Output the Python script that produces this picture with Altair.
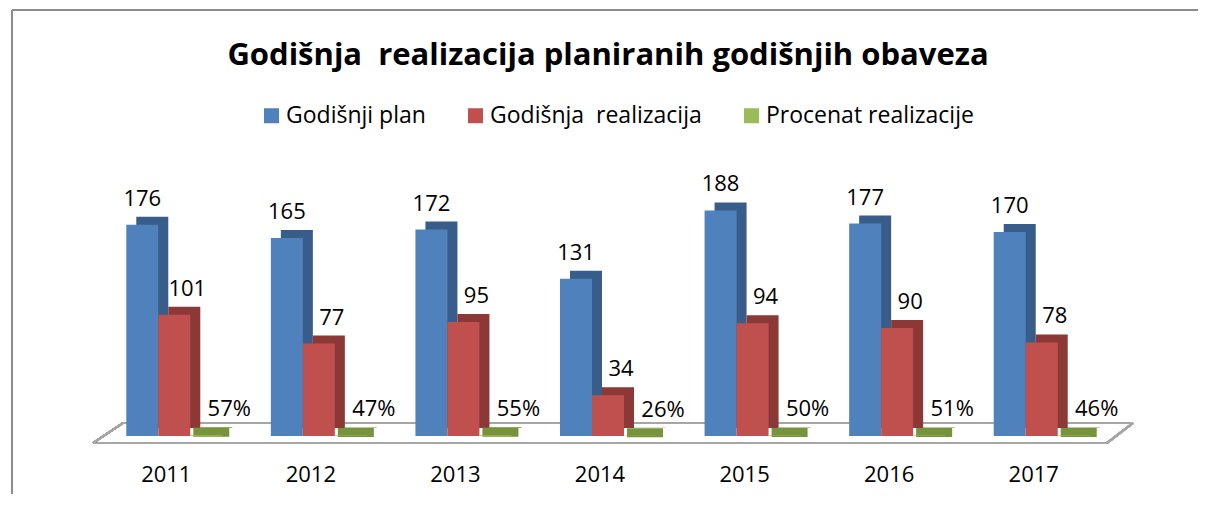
import altair as alt
import pandas as pd

years = ["2011", "2012", "2013", "2014", "2015", "2016", "2017"]
plan = [176, 165, 172, 131, 188, 177, 170]
realizacija = [101, 77, 95, 34, 94, 90, 78]
procenat = [0.57, 0.47, 0.55, 0.26, 0.50, 0.51, 0.46]

series = ["Godišnji plan", "Godišnja\u00a0 realizacija", "Procenat realizacije"]
front_colors = ["#4F81BD", "#C0504D", "#9BBB59"]
side_colors = ["#385D8A", "#8C3836", "#77933C"]

rows = []
for name, vals in zip(series, [plan, realizacija, procenat]):
    for y, v in zip(years, vals):
        rows.append({"year": y, "series": name, "value": v})
df = pd.DataFrame(rows)

FONT = "Open Sans"

x_enc = alt.X("year:N", sort=years,
              scale=alt.Scale(paddingInner=0.336, paddingOuter=0.168),
              axis=alt.Axis(title=None, domain=False, ticks=False, labelAngle=0,
                            labelFontSize=22, labelFont=FONT, labelColor="#000000",
                            labelPadding=28, labelOffset=-8, grid=False))
xo_enc = alt.XOffset("series:N", sort=series,
                     scale=alt.Scale(domain=series, range=[0, 96],
                                     paddingInner=0, paddingOuter=0))
xo_side = alt.XOffset("series:N", sort=series,
                      scale=alt.Scale(domain=series, range=[10, 106],
                                      paddingInner=0, paddingOuter=0))
xo_text = alt.XOffset("series:N", sort=series,
                      scale=alt.Scale(type="point", domain=series, range=[16, 80], padding=0))
xo_top = alt.XOffset("series:N", sort=series,
                     scale=alt.Scale(type="point", domain=series, range=[21, 85], padding=0))
y_enc = alt.Y("value:Q", scale=alt.Scale(domain=[0, 200]), axis=None)
# depth faces: same slope, lifted 8px (3D depth), reaching down to the floor
y_side = alt.Y("value:Q", scale=alt.Scale(domain=[0, 200], range=[232, -8]), axis=None)

base = alt.Chart(df)

# floor outline (decoration)
floor_style = dict(color="#A6A6A6", strokeWidth=2)
floor = alt.layer(
    base.mark_rule(**floor_style).encode(x=alt.value(-9), x2=alt.value(1005), y=alt.value(247), y2=alt.value(247)),
    base.mark_rule(**floor_style).encode(x=alt.value(21), x2=alt.value(1031), y=alt.value(227), y2=alt.value(227)),
    base.mark_rule(**floor_style).encode(x=alt.value(-9), x2=alt.value(21), y=alt.value(247), y2=alt.value(227)),
    base.mark_rule(**floor_style).encode(x=alt.value(1005), x2=alt.value(1031), y=alt.value(247), y2=alt.value(227)),
)

# chart frame (decoration)
frame = alt.layer(
    base.mark_rule(color="#8C8C8C", strokeWidth=2).encode(x=alt.value(-90), x2=alt.value(1200), y=alt.value(-186), y2=alt.value(-186)),
    base.mark_rule(color="#8C8C8C", strokeWidth=2).encode(x=alt.value(-90), x2=alt.value(-90), y=alt.value(-186), y2=alt.value(400)),
)

side = base.mark_bar().encode(
    x=x_enc, xOffset=xo_side, y=y_side, y2=alt.value("height"),
    color=alt.Color("series:N", sort=series,
                    scale=alt.Scale(domain=series, range=side_colors), legend=None),
)

# flat top face of the (near zero) percentage bars
green_top = base.transform_filter(alt.datum.series == series[2]).mark_tick(
    orient="horizontal", thickness=9, size=36, color=side_colors[2], opacity=1, yOffset=-3
).encode(x=x_enc, xOffset=xo_top, y=y_enc)

front = base.mark_bar().encode(
    x=x_enc, xOffset=xo_enc, y=y_enc,
    color=alt.Color("series:N", sort=series,
                    scale=alt.Scale(domain=series, range=front_colors),
                    legend=alt.Legend(title=None, orient="none", direction="horizontal",
                                      legendX=158, legendY=-92,
                                      symbolType="square", symbolSize=225, symbolStrokeWidth=0,
                                      labelFontSize=23, labelFont=FONT, labelColor="#000000",
                                      labelLimit=400,
                                      labelOffset=3, columnPadding=38, padding=0)),
)

def labels(name, dx):
    return base.transform_filter(alt.datum.series == name).transform_calculate(
        label="datum.series == 'Procenat realizacije' ? format(datum.value, '.0%') : format(datum.value, 'd')"
    ).mark_text(fontSize=22, font=FONT, color="#000000", baseline="middle", dx=dx, dy=-26).encode(
        x=x_enc, xOffset=xo_text, y=y_enc, text="label:N")

chart = alt.layer(
    frame, floor, side, green_top, front,
    labels(series[0], 0), labels(series[1], 13), labels(series[2], 23),
).resolve_scale(color="independent", xOffset="independent", y="independent").properties(
    width=1012, height=240,
    autosize=alt.AutoSizeParams(type="none"),
    padding={"left": 94, "top": 188, "right": 84, "bottom": 58},
    title=alt.Title("Godišnja\u00a0 realizacija planiranih godišnjih obaveza",
                    font=FONT, fontSize=31, fontWeight="bold", color="#000000",
                    anchor="middle", offset=0, dy=63, frame="group"),
).configure_view(stroke=None)

chart.save("out.html", embed_options={"renderer": "svg", "actions": False})
